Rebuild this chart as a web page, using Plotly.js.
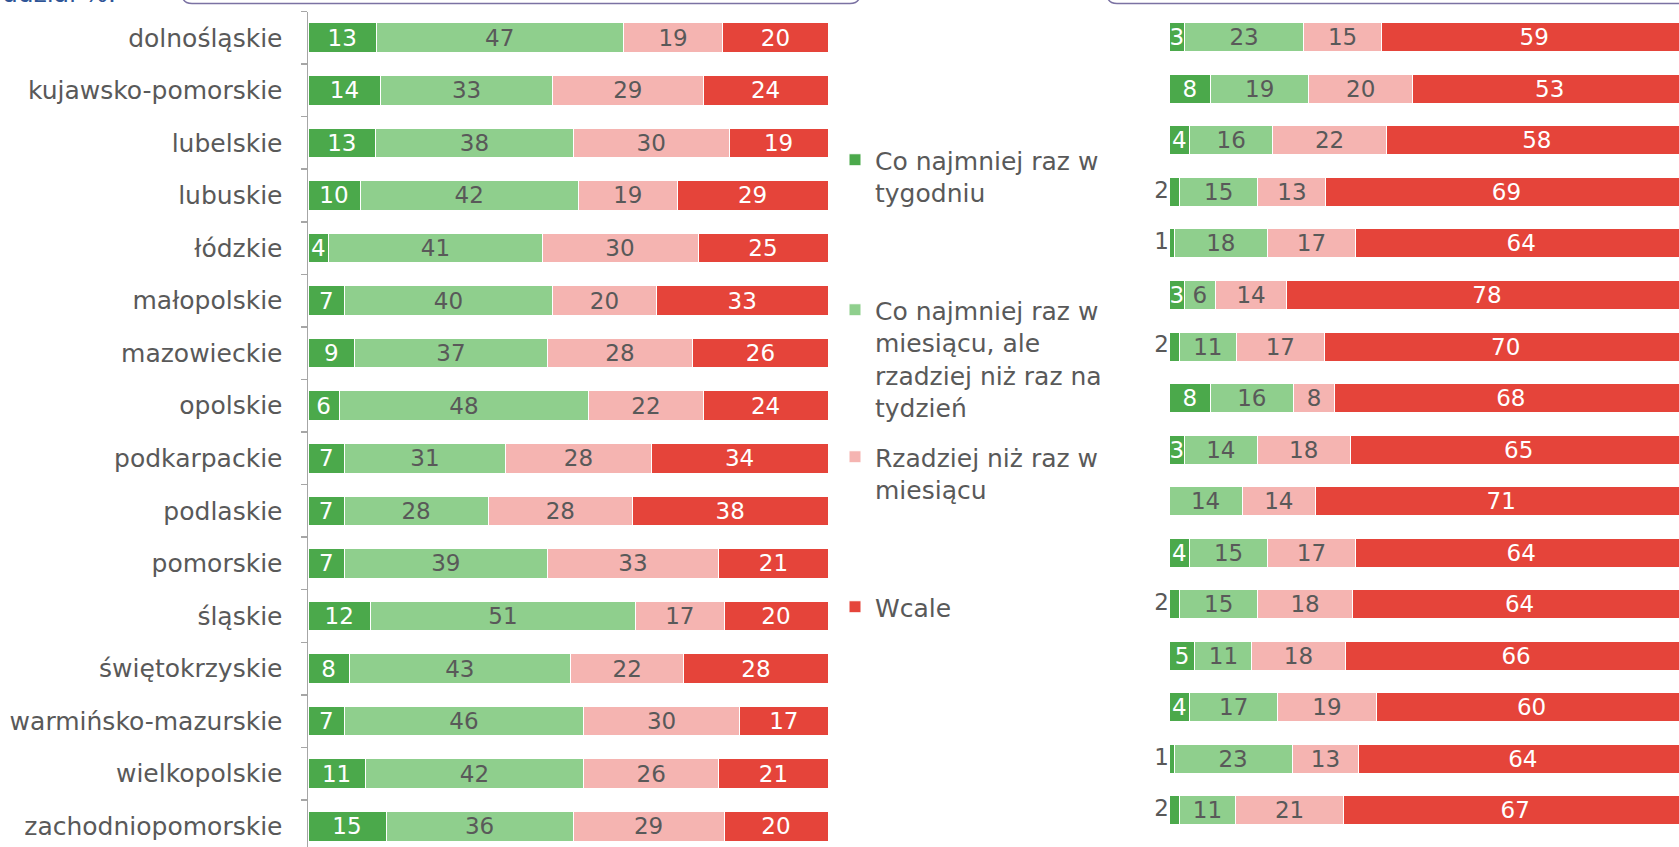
<!DOCTYPE html>
<html><head><meta charset="utf-8">
<script src="https://cdn.plot.ly/plotly-3.0.1.min.js"></script>
<style>
html,body{margin:0;padding:0;overflow:hidden;background:#fff;width:1679px;height:847px}
#chart{width:1690px;height:856px}
</style>
</head><body><div id="chart"></div>
<script>
const regions = ['dolnośląskie','kujawsko-pomorskie','lubelskie','lubuskie','łódzkie','małopolskie','mazowieckie','opolskie','podkarpackie','podlaskie','pomorskie','śląskie','świętokrzyskie','warmińsko-mazurskie','wielkopolskie','zachodniopomorskie'];
const seriesNames = ['Co najmniej raz w<br>tygodniu','Co najmniej raz w<br>miesiącu, ale<br>rzadziej niż raz na<br>tydzień','Rzadziej niż raz w<br>miesiącu','Wcale'];
const leftWeekly  = [13,14,13,10,4,7,9,6,7,7,7,12,8,7,11,15];
const leftMonthly = [47,33,38,42,41,40,37,48,31,28,39,51,43,46,42,36];
const leftRarely  = [19,29,30,19,30,20,28,22,28,28,33,17,22,30,26,29];
const leftNever   = [20,24,19,29,25,33,26,24,34,38,21,20,28,17,21,20];
const rightWeekly  = [3,8,4,2,1,3,2,8,3,0,4,2,5,4,1,2];
const rightMonthly = [23,19,16,15,18,6,11,16,14,14,15,15,11,17,23,11];
const rightRarely  = [15,20,22,13,17,14,17,8,18,14,17,18,18,19,13,21];
const rightNever   = [59,53,58,69,64,78,70,68,65,71,64,64,66,60,64,67];
const topNote = 'udział %.';

const W = 1690, H = 856;
const fx = x => x / W;
const fy = y => 1 - y / H;

const colors = ['#4BA94B','#8FCF8D','#F5B4B1','#E5443A'];
const textColors = ['#FFFFFF','#595959','#595959','#FFFFFF'];
const leftSets = [leftWeekly, leftMonthly, leftRarely, leftNever];
const rightSets = [rightWeekly, rightMonthly, rightRarely, rightNever];
const FONT = 'DejaVu Sans, sans-serif';
const GRAY = '#595959';

const traces = [];
leftSets.forEach((vals, i) => {
  traces.push({
    type: 'bar', orientation: 'h', x: vals, y: regions, xaxis: 'x', yaxis: 'y',
    name: seriesNames[i], legend: i === 0 ? 'legend' : 'legend' + (i + 1),
    marker: {color: colors[i], line: {color: '#FFFFFF', width: 1}},
    text: vals.map(v => String(v)), textposition: 'inside', insidetextanchor: 'middle',
    textangle: 0, textfont: {color: textColors[i], size: 23, family: FONT},
    hoverinfo: 'skip'
  });
});
rightSets.forEach((vals, i) => {
  traces.push({
    type: 'bar', orientation: 'h', x: vals, y: regions, xaxis: 'x2', yaxis: 'y2',
    name: seriesNames[i], showlegend: false,
    marker: {color: colors[i], line: {color: '#FFFFFF', width: 1}},
    text: vals.map(v => v > 2 ? String(v) : ''), textposition: 'inside', insidetextanchor: 'middle',
    textangle: 0, textfont: {color: textColors[i], size: 23, family: FONT},
    hoverinfo: 'skip'
  });
});
// small values labelled outside, to the left of the bar
const smallIdx = rightWeekly.map((v, k) => (v > 0 && v <= 2) ? k : -1).filter(k => k >= 0);
traces.push({
  type: 'scatter', mode: 'text', xaxis: 'x2', yaxis: 'y2', showlegend: false, cliponaxis: false,
  x: smallIdx.map(() => 0), y: smallIdx.map(k => regions[k]),
  text: smallIdx.map(k => String(rightWeekly[k])), textposition: 'middle left',
  textfont: {color: GRAY, size: 23, family: FONT}, hoverinfo: 'skip'
});

function boxPath(x0, x1, yb, r, ytop, rightCorner) {
  let p = `M ${fx(x0)},${fy(ytop)} L ${fx(x0)},${fy(yb - r)} Q ${fx(x0)},${fy(yb)} ${fx(x0 + r)},${fy(yb)} `;
  if (rightCorner) {
    p += `L ${fx(x1 - r)},${fy(yb)} Q ${fx(x1)},${fy(yb)} ${fx(x1)},${fy(yb - r)} L ${fx(x1)},${fy(ytop)}`;
  } else {
    p += `L ${fx(x1)},${fy(yb)}`;
  }
  return p;
}

const legendBase = {bgcolor: 'rgba(0,0,0,0)', font: {family: FONT, size: 25, color: GRAY},
  xanchor: 'left', yanchor: 'top', valign: 'top', itemclick: false, itemdoubleclick: false};
const legendX = fx(835);

const layout = {
  width: W, height: H,
  margin: {l: 0, r: 0, t: 0, b: 0},
  paper_bgcolor: '#FFFFFF', plot_bgcolor: 'rgba(0,0,0,0)',
  font: {family: FONT, color: GRAY, size: 25},
  barmode: 'stack', barnorm: 'percent', bargap: 0.437,
  uniformtext: {mode: 'show', minsize: 23},
  showlegend: true,
  legend:  Object.assign({x: legendX, y: fy(137)}, legendBase),
  legend2: Object.assign({x: legendX, y: fy(287)}, legendBase),
  legend3: Object.assign({x: legendX, y: fy(434)}, legendBase),
  legend4: Object.assign({x: legendX, y: fy(584)}, legendBase),
  xaxis: {domain: [fx(308), fx(828)], range: [0, 100], anchor: 'y', showgrid: false, zeroline: false,
          showticklabels: false, ticks: '', showline: false, fixedrange: true},
  yaxis: {domain: [fy(852.5), fy(11.5)], anchor: 'x', type: 'category', categoryorder: 'array', categoryarray: regions,
          autorange: 'reversed', showgrid: false, zeroline: false, showline: true, linecolor: '#A6A6A6', linewidth: 1.5,
          ticks: 'outside', tickson: 'boundaries', ticklen: 6, tickwidth: 1.5, tickcolor: '#A6A6A6',
          ticklabelstandoff: 19, tickfont: {family: FONT, size: 25, color: GRAY}, fixedrange: true},
  xaxis2: {domain: [fx(1169), fx(1687)], range: [0, 100], anchor: 'y2', showgrid: false, zeroline: false,
           showticklabels: false, ticks: '', showline: false, fixedrange: true},
  yaxis2: {domain: [fy(852.5), fy(11.5)], anchor: 'x2', type: 'category', categoryorder: 'array', categoryarray: regions,
           autorange: 'reversed', showgrid: false, zeroline: false, showline: false, ticks: '',
           showticklabels: false, fixedrange: true},
  annotations: [{text: topNote, xref: 'paper', yref: 'paper', x: 0, y: fy(10), xanchor: 'left', yanchor: 'bottom',
                 showarrow: false, font: {family: FONT, size: 25, color: '#2F5597'}}],
  shapes: [
    {type: 'path', xref: 'paper', yref: 'paper', path: boxPath(182, 860, 3.5, 10, -40, true),
     line: {color: '#7B72A3', width: 1.5}},
    {type: 'path', xref: 'paper', yref: 'paper', path: boxPath(1107, 1720, 3.5, 10, -40, false),
     line: {color: '#7B72A3', width: 1.5}}
  ]
};

Plotly.newPlot('chart', traces, layout, {displayModeBar: false, staticPlot: true});
</script>
</body></html>
